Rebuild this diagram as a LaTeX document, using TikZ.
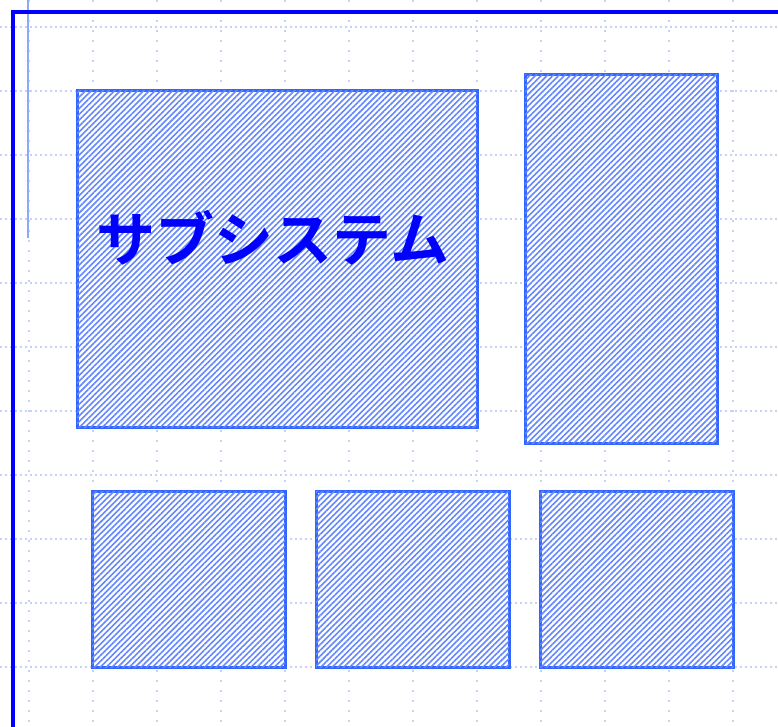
\documentclass[tikz,border=0pt]{standalone}
\usepackage{fontspec}
\newfontfamily\cjk{Noto Sans CJK JP}[BoldFont={Noto Sans CJK JP Bold}]
\usetikzlibrary{patterns.meta}
\definecolor{frameblue}{RGB}{0,0,255}
\definecolor{boxblue}{RGB}{51,102,255}
\definecolor{hatchblue}{RGB}{100,135,255}
\definecolor{gridblue}{RGB}{195,210,245}
\definecolor{guideblue}{RGB}{140,170,250}
\tikzset{
  hatchbox/.style={draw=boxblue, line width=3pt, fill=white,
    postaction={pattern={Lines[angle=45,distance=4.1pt,line width=1.6pt]},
    pattern color=hatchblue}},
  gridh/.style={draw=gridblue, line width=1.3pt, dash pattern=on 2pt off 3pt},
  gridv/.style={draw=gridblue, line width=1.3pt, dash pattern=on 2pt off 8pt},
  framestyle/.style={draw=frameblue, line width=4pt}
}
\begin{document}
\begin{tikzpicture}[x=1pt,y=-1pt]
\useasboundingbox (0,0) rectangle (778,727);
% grid
\foreach \gx in {29,93,157,221,285,349,413,477,541,605,669,733}
  \draw[gridv] (\gx,0) -- (\gx,727);
\foreach \gy in {27,91,155,219,283,347,411,475,539,603,667}
  \draw[gridh] (0,\gy) -- (778,\gy);
% guide line
\coordinate (gtop) at (28,0);
\coordinate (gbot) at (28,238);
\draw[draw=guideblue, line width=1.5pt] (gtop) -- (gbot);
% frame
\coordinate (fbl) at (13,727);
\coordinate (ftl) at (13,12);
\coordinate (ftr) at (778,12);
\draw[framestyle] (fbl) -- (ftl) -- (ftr);
% boxes
\path[hatchbox] (77,91) rectangle (477,427);
\node[inner sep=0, outer sep=0, minimum width=400pt, minimum height=336pt] (big) at (277,259) {};
\path[hatchbox] (525,75) rectangle (717,443);
\node[inner sep=0, minimum width=192pt, minimum height=368pt] (tall) at (621,259) {};
\path[hatchbox] (92,491) rectangle (285,667);
\node[inner sep=0, minimum width=193pt, minimum height=176pt] (b1) at (188.5,579) {};
\path[hatchbox] (316,491) rectangle (509,667);
\node[inner sep=0, minimum width=193pt, minimum height=176pt] (b2) at (412.5,579) {};
\path[hatchbox] (540,491) rectangle (733,667);
\node[inner sep=0, minimum width=193pt, minimum height=176pt] (b3) at (636.5,579) {};
% label
\node[text=frameblue, inner sep=0, font=\cjk\bfseries\fontsize{59}{62}\selectfont] (label) at (273,238) {サブシステム};
\end{tikzpicture}
\end{document}
